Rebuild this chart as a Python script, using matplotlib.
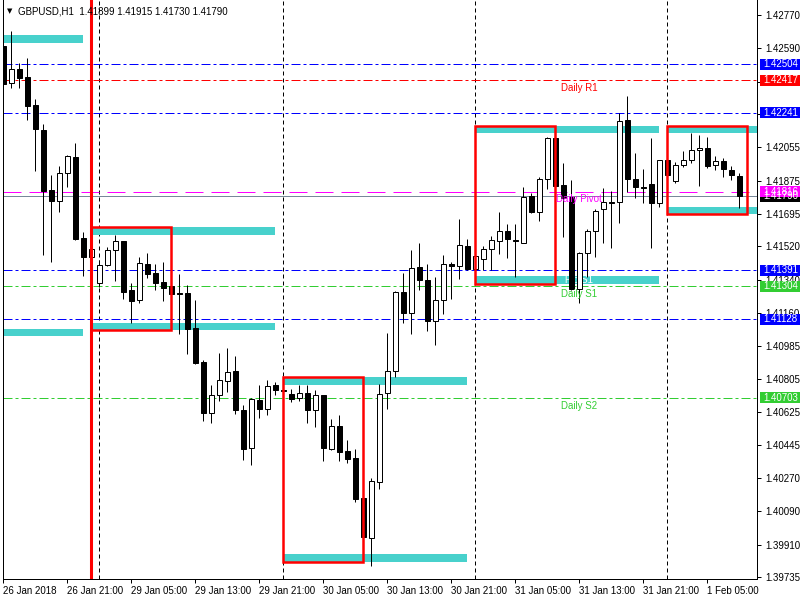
import numpy as np
import matplotlib
matplotlib.use("Agg")
import matplotlib.pyplot as plt
import matplotlib.transforms as mtransforms
from matplotlib.patches import Rectangle

plt.rcParams['font.family'] = ['Liberation Sans', 'DejaVu Sans']

# GBPUSD H1 candles (oldest first)
opens = [1.42603, 1.42403, 1.42478, 1.42435, 1.42284, 1.42149, 1.41825, 1.41766, 1.41917, 1.42003,
         1.41566, 1.41463, 1.41323, 1.41420, 1.41501, 1.41550, 1.41285, 1.41231, 1.41425, 1.41377,
         1.41328, 1.41307, 1.41269, 1.41269, 1.41080, 1.40896, 1.40621, 1.40718, 1.40794, 1.40848,
         1.40637, 1.40432, 1.40691, 1.40642, 1.40772, 1.40745, 1.40723, 1.40702, 1.40729, 1.40637,
         1.40718, 1.40426, 1.40551, 1.40416, 1.40378, 1.40162, 1.39946, 1.40248, 1.40729, 1.40848,
         1.41274, 1.41161, 1.41409, 1.41339, 1.41118, 1.41231, 1.41425, 1.41415, 1.41523, 1.41398,
         1.41452, 1.41506, 1.41550, 1.41604, 1.41555, 1.41539, 1.41793, 1.41706, 1.41884, 1.42106,
         1.41852, 1.41787, 1.41290, 1.41485, 1.41604, 1.41722, 1.41760, 1.41760, 1.42203, 1.41884,
         1.41841, 1.41857, 1.41755, 1.41987, 1.41874, 1.41960, 1.41987, 1.42041, 1.42052, 1.41960,
         1.41982, 1.41933, 1.41899]
highs = [1.42613, 1.42684, 1.42511, 1.42538, 1.42316, 1.42181, 1.41906, 1.41955, 1.42014, 1.42079,
         1.41598, 1.41512, 1.41447, 1.41517, 1.41582, 1.41550, 1.41323, 1.41463, 1.41485, 1.41425,
         1.41436, 1.41312, 1.41371, 1.41312, 1.41231, 1.40907, 1.40772, 1.40945, 1.40972, 1.40929,
         1.40664, 1.40702, 1.40772, 1.40799, 1.40788, 1.40745, 1.40750, 1.40772, 1.40772, 1.40745,
         1.40718, 1.40588, 1.40610, 1.40475, 1.40426, 1.40162, 1.40270, 1.40777, 1.41053, 1.41280,
         1.41377, 1.41501, 1.41539, 1.41425, 1.41355, 1.41474, 1.41436, 1.41668, 1.41560, 1.41469,
         1.41523, 1.41577, 1.41706, 1.41641, 1.41641, 1.41841, 1.41809, 1.41895, 1.42111, 1.42117,
         1.41971, 1.41879, 1.41490, 1.41614, 1.41722, 1.41836, 1.41820, 1.42241, 1.42333, 1.42025,
         1.41938, 1.42106, 1.41987, 1.41998, 1.41976, 1.42036, 1.42133, 1.42122, 1.42111, 1.42009,
         1.41998, 1.41955, 1.41915]
lows = [1.42392, 1.42376, 1.42376, 1.42203, 1.41928, 1.41474, 1.41436, 1.41706, 1.41841, 1.41555,
        1.41361, 1.41463, 1.41301, 1.41415, 1.41334, 1.41236, 1.41107, 1.41215, 1.41350, 1.41285,
        1.41226, 1.41258, 1.41047, 1.40939, 1.40885, 1.40578, 1.40567, 1.40686, 1.40734, 1.40615,
        1.40367, 1.40340, 1.40594, 1.40610, 1.40718, 1.40740, 1.40680, 1.40686, 1.40567, 1.40545,
        1.40362, 1.40421, 1.40362, 1.40351, 1.40140, 1.39951, 1.39795, 1.40210, 1.40642, 1.40815,
        1.41107, 1.41047, 1.41285, 1.41064, 1.40988, 1.41155, 1.41236, 1.41344, 1.41393, 1.41393,
        1.41393, 1.41393, 1.41479, 1.41458, 1.41355, 1.41539, 1.41701, 1.41658, 1.41830, 1.41841,
        1.41571, 1.41285, 1.41215, 1.41355, 1.41463, 1.41539, 1.41512, 1.41647, 1.41814, 1.41782,
        1.41755, 1.41512, 1.41733, 1.41879, 1.41863, 1.41949, 1.41971, 1.41847, 1.41944, 1.41933,
        1.41895, 1.41879, 1.41730]
closes = [1.42397, 1.42478, 1.42430, 1.42279, 1.42154, 1.41820, 1.41766, 1.41917, 1.42009, 1.41560,
          1.41463, 1.41506, 1.41420, 1.41501, 1.41550, 1.41274, 1.41226, 1.41431, 1.41371, 1.41323,
          1.41296, 1.41263, 1.41263, 1.41074, 1.40891, 1.40621, 1.40718, 1.40799, 1.40842, 1.40637,
          1.40426, 1.40696, 1.40642, 1.40767, 1.40745, 1.40740, 1.40696, 1.40729, 1.40637, 1.40718,
          1.40432, 1.40551, 1.40410, 1.40372, 1.40156, 1.39951, 1.40254, 1.40723, 1.40848, 1.41274,
          1.41161, 1.41404, 1.41339, 1.41118, 1.41231, 1.41425, 1.41415, 1.41528, 1.41398, 1.41469,
          1.41506, 1.41555, 1.41604, 1.41560, 1.41550, 1.41787, 1.41706, 1.41884, 1.42106, 1.41847,
          1.41782, 1.41290, 1.41485, 1.41604, 1.41712, 1.41760, 1.41755, 1.42198, 1.41884, 1.41841,
          1.41836, 1.41755, 1.41987, 1.41906, 1.41960, 1.41987, 1.42041, 1.42052, 1.41955, 1.41982,
          1.41938, 1.41906, 1.41790]

time_tick_bars = [0, 8, 16, 24, 32, 40, 48, 56, 64, 72, 80, 88]
time_tick_labels = ['26 Jan 2018', '26 Jan 21:00', '29 Jan 05:00', '29 Jan 13:00', '29 Jan 21:00',
                    '30 Jan 05:00', '30 Jan 13:00', '30 Jan 21:00', '31 Jan 05:00', '31 Jan 13:00',
                    '31 Jan 21:00', '1 Feb 05:00']
price_ticks = [1.42770, 1.42590, 1.42410, 1.42235, 1.42055, 1.41875, 1.41695, 1.41520, 1.41340,
               1.41160, 1.40985, 1.40805, 1.40625, 1.40445, 1.40270, 1.40090, 1.39910, 1.39735]

separator_bars = [12, 35, 59, 83]
marker_bar = 11

pivot_names = ['Daily R1', 'Daily Pivot', 'Daily S1', 'Daily S2']
pivot_values = [1.42417, 1.41816, 1.41304, 1.40703]
pivot_colors = ['#ff0000', '#ff00ff', '#32cd32', '#32cd32']
blue_levels = [1.42504, 1.42241, 1.41391, 1.41128]

# session zones per day
zone_start = [-5, 11, 35, 59, 83]
zone_end = [10, 34, 58, 82, 106]
upper_top = [1.42662, 1.41625, 1.40815, 1.42171, 1.42171]
upper_bot = [1.42619, 1.41582, 1.40772, 1.42133, 1.42133]
lower_top = [1.41074, 1.41107, 1.39859, 1.41361, 1.41733]
lower_bot = [1.41037, 1.41069, 1.39816, 1.41317, 1.41695]
box_days = [1, 2, 3, 4]
box_len = 10

px = 1 / 0.72  # points per pixel factor helper
LW1 = 0.72

fig = plt.figure(figsize=(8, 6), dpi=100)
ax = fig.add_axes([2.5 / 800, 21 / 600, 754.5 / 800, 579 / 600])
ax.set_xlim(-0.1, 94.21)
ax.set_ylim(1.39724, 1.42851)

x = np.arange(len(opens))
o = np.array(opens); c = np.array(closes)
bull = c > o

# zones
for s, e, ut, ub, lt, lb in zip(zone_start, zone_end, upper_top, upper_bot, lower_top, lower_bot):
    ax.add_patch(Rectangle((s, ub), e - s, ut - ub, fc='#48d1cc', ec='none', zorder=2))
    ax.add_patch(Rectangle((s, lb), e - s, lt - lb, fc='#48d1cc', ec='none', zorder=2))

# level lines
for v in blue_levels:
    ax.axhline(v, color='#0000ff', lw=LW1, ls=(0, (9, 3, 3, 3)), zorder=1.5)
for name, v, col in zip(pivot_names, pivot_values, pivot_colors):
    ls = (0, (18, 8)) if name == 'Daily Pivot' else (0, (9, 3, 3, 3))
    ax.axhline(v, color=col, lw=LW1, ls=ls, zorder=1.5)
    ax.annotate(name, (72, v), xytext=(0, -2), textcoords='offset points',
                ha='center', va='top', color=col, fontsize=7, zorder=6)
ax.text(72, 1.41339, 'Fib S1', color='white', fontsize=7, ha='center', va='center', zorder=2.5)

# bid line
ax.axhline(closes[-1], color='#778899', lw=LW1, zorder=1.6)

# separators
for b in separator_bars:
    ax.axvline(b, color='black', lw=LW1, ls=(0, (4, 3)), zorder=1.4)
ax.axvline(marker_bar, color='#ff0000', lw=2.2, zorder=5)

# candles
ax.vlines(x, lows, highs, color='black', lw=LW1, zorder=3)
bottoms = np.minimum(o, c)
heights = np.maximum(np.abs(c - o), 0.000005)
ax.bar(x, heights, bottom=bottoms, width=0.55,
       color=np.where(bull, 'white', 'black'), edgecolor='black', linewidth=LW1, zorder=3.5)

# red range boxes
for d in box_days:
    s = zone_start[d]
    ax.add_patch(Rectangle((s, lower_bot[d]), box_len, upper_top[d] - lower_bot[d],
                           fill=False, ec='#ff0000', lw=1.8, zorder=5))

# axes styling
for side in ['top']:
    ax.spines[side].set_visible(False)
for side in ['left', 'right', 'bottom']:
    ax.spines[side].set_linewidth(LW1)
ax.yaxis.tick_right()
ax.set_yticks(price_ticks)
ax.set_yticklabels(['%.5f' % p for p in price_ticks])
ax.set_xticks(time_tick_bars)
ax.set_xticklabels(time_tick_labels, ha='left')
ax.tick_params(axis='both', length=3, width=LW1, labelsize=7, pad=2)
ax.tick_params(axis='y', pad=3)

# price tags on the right scale
trans = mtransforms.blended_transform_factory(ax.transAxes, ax.transData)
half = 5.5 * 0.000054
x0 = (760 - 2.5) / 754.5
x1 = (800 - 2.5) / 754.5
xt = (763 - 2.5) / 754.5
tags = [(1.42504, '#0000ff'), (1.42417, '#ff0000'), (1.42241, '#0000ff'),
        (closes[-1], '#000000'), (1.41816, '#ff00ff'), (1.41391, '#0000ff'),
        (1.41304, '#32cd32'), (1.41128, '#0000ff'), (1.40703, '#32cd32')]
for v, col in tags:
    ax.add_patch(Rectangle((x0, v - half), x1 - x0, 2 * half, transform=trans,
                           fc=col, ec='none', clip_on=False, zorder=10))
    ax.text(xt, v, '%.5f' % v, transform=trans, color='white', fontsize=7,
            va='center', ha='left', clip_on=False, zorder=11)

# header
fig.text(9.5 / 800, 1 - 11 / 600, '\u25bc', family='DejaVu Sans', fontsize=5, ha='center', va='center')
fig.text(18 / 800, 1 - 11 / 600,
         'GBPUSD,H1  %.5f %.5f %.5f %.5f' % (opens[-1], highs[-1], lows[-1], closes[-1]),
         fontsize=7, va='center', ha='left')

fig.savefig('out.png', dpi=100)
